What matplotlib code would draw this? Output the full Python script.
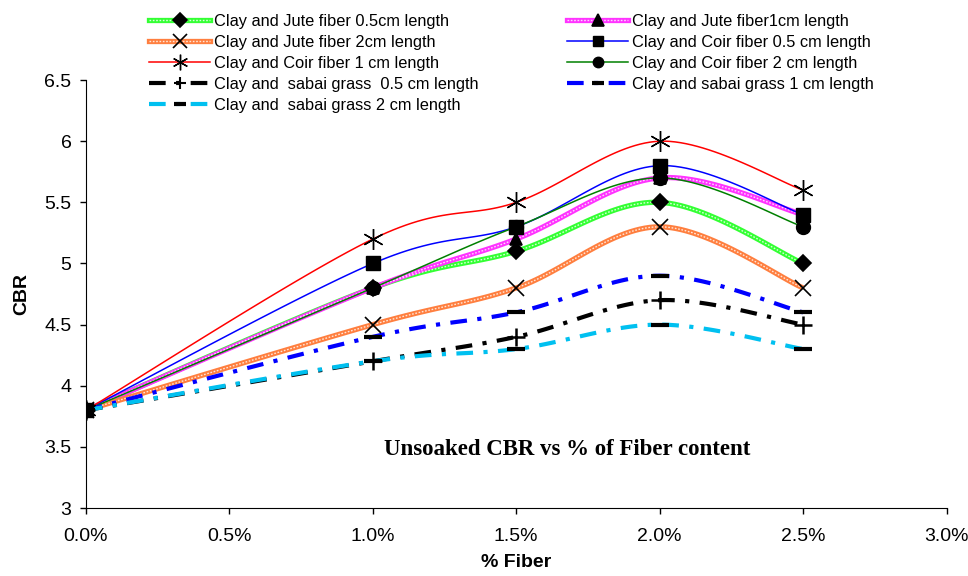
import numpy as np
import matplotlib
matplotlib.use("Agg")
import matplotlib.pyplot as plt
from matplotlib.ticker import PercentFormatter, FuncFormatter, MultipleLocator

plt.rcParams['font.family'] = ['Liberation Sans', 'DejaVu Sans']

# fiber content (%)
fiber = [0.0, 1.0, 1.5, 2.0, 2.5]

jute_05 = [3.8, 4.8, 5.1, 5.5, 5.0]
jute_1 = [3.8, 4.8, 5.2, 5.7, 5.4]
jute_2 = [3.8, 4.5, 4.8, 5.3, 4.8]
coir_05 = [3.8, 5.0, 5.3, 5.8, 5.4]
coir_1 = [3.8, 5.2, 5.5, 6.0, 5.6]
coir_2 = [3.8, 4.8, 5.3, 5.7, 5.3]
sabai_05 = [3.8, 4.2, 4.4, 4.7, 4.5]
sabai_1 = [3.8, 4.4, 4.6, 4.9, 4.6]
sabai_2 = [3.8, 4.2, 4.3, 4.5, 4.3]

labels = ["Clay and Jute fiber 0.5cm length",
          "Clay and Jute fiber1cm length",
          "Clay and Jute fiber 2cm length",
          "Clay and Coir fiber 0.5 cm length",
          "Clay and Coir fiber 1 cm length",
          "Clay and Coir fiber 2 cm length",
          "Clay and  sabai grass  0.5 cm length",
          "Clay and sabai grass 1 cm length",
          "Clay and  sabai grass 2 cm length"]


def smooth(x, y, n=30, sx=287.0, sy=122.0):
    # excel-like smoothed line (bezier through the points, in pixel-ish scale)
    p = np.column_stack([np.array(x) * sx, np.array(y) * sy])
    p = np.vstack([p[0], p, p[-1]])
    out = []
    for i in range(1, len(p) - 2):
        p0, p1, p2, p3 = p[i - 1], p[i], p[i + 1], p[i + 2]
        c1 = p1 + (p2 - p0) / 6
        c2 = p2 - (p3 - p1) / 6
        t = np.linspace(0, 1, n)[:, None]
        seg = ((1 - t) ** 3) * p1 + 3 * ((1 - t) ** 2) * t * c1 + 3 * (1 - t) * t ** 2 * c2 + t ** 3 * p2
        out.append(seg if i == 1 else seg[1:])
    out = np.vstack(out)
    return out[:, 0] / sx, out[:, 1] / sy


fig = plt.figure(figsize=(9.68, 5.76), dpi=100)
ax = fig.add_axes([0.0888, 0.118, 0.889, 0.743])

handles = []
dashdot = (0, (4, 2.5, 1, 2.5))

# jute fibers: thick patterned lines
for vals, col, mk, ms in [(jute_05, '#33ff33', 'D', 8), (jute_1, '#ff33ff', '^', 9), (jute_2, '#ff7f3f', 'x', 11)]:
    sx_, sy_ = smooth(fiber, vals)
    ax.plot(sx_, sy_, color=col, lw=3.8, solid_capstyle='butt', zorder=2)
    ax.plot(sx_, sy_, color='white', lw=1.0, ls=(0, (1.2, 1.2)), alpha=0.8, zorder=2.1)
    ax.plot(fiber, vals, ls='none', marker=mk, ms=ms, color='black', mew=1.2, zorder=5)
    h1, = ax.plot([], [], color=col, lw=3.8)
    h2, = ax.plot([], [], color='white', lw=1.0, ls=(0, (1.2, 1.2)), alpha=0.8)
    h3, = ax.plot([], [], ls='none', marker=mk, ms=ms - 1, color='black', mew=1.2)
    handles.append((h1, h2, h3))

# coir fibers: thin solid lines
for vals, col, mk, ms in [(coir_05, '#0000ff', 's', 10), (coir_1, '#ff0000', (6, 2, 0), 15), (coir_2, '#008000', 'o', 10)]:
    sx_, sy_ = smooth(fiber, vals)
    ax.plot(sx_, sy_, color=col, lw=1.1, zorder=3)
    ax.plot(fiber, vals, ls='none', marker=mk, ms=ms, color='black', mew=1.0, zorder=5)
    h1, = ax.plot([], [], color=col, lw=1.1)
    h3, = ax.plot([], [], ls='none', marker=mk, ms=ms * 0.75, color='black', mew=1.0)
    handles.append((h1, h3))

# sabai grass: thick dash-dot lines
for vals, col, mk, ms in [(sabai_05, 'black', '+', 13), (sabai_1, '#0000ff', '_', 13), (sabai_2, '#00c0f0', '_', 13)]:
    sx_, sy_ = smooth(fiber, vals)
    ax.plot(sx_, sy_, color=col, lw=3.0, ls=dashdot, zorder=4)
    ax.plot(fiber, vals, ls='none', marker=mk, ms=ms, color='black', mew=1.8 if mk == '+' else 3, zorder=5)
    h1, = ax.plot([], [], color=col, lw=3.0, ls=dashdot)
    h3, = ax.plot([], [], ls='none', marker=mk, ms=ms * 0.7, color='black', mew=1.5 if mk == '+' else 3)
    handles.append((h1, h3))

ax.set_xlim(0, 3.0)
ax.set_ylim(3, 6.5)
ax.xaxis.set_major_locator(MultipleLocator(0.5))
ax.yaxis.set_major_locator(MultipleLocator(0.5))
ax.xaxis.set_major_formatter(PercentFormatter(xmax=100, decimals=1))
ax.yaxis.set_major_formatter(FuncFormatter(lambda v, p: '%g' % v))
ax.spines['top'].set_visible(False)
ax.spines['right'].set_visible(False)
ax.tick_params(labelsize=14, length=4.5, width=1, direction='out')
ax.tick_params(axis='x', pad=10)
ax.tick_params(axis='y', pad=6)
ax.set_xlabel('% Fiber', fontsize=14, fontweight='bold', labelpad=6)
ax.set_ylabel('CBR', fontsize=14, fontweight='bold', labelpad=10)

ax.text(1.04, 3.48, 'Unsoaked CBR vs % of Fiber content', family=['Liberation Serif', 'DejaVu Serif'],
        fontsize=16.5, fontweight='bold', ha='left', va='center')

# legend filled row by row like the original (two columns)
order = [0, 2, 4, 6, 8, 1, 3, 5, 7]
leg = fig.legend([handles[i] for i in order], [labels[i] for i in order], ncol=2,
                 loc='upper left', bbox_to_anchor=(0.14, 1.0), frameon=False,
                 fontsize=11.8, handlelength=3.7, handletextpad=0.25, labelspacing=0.36,
                 columnspacing=5.4, borderaxespad=0.45)

fig.savefig('out.png', dpi=100)
